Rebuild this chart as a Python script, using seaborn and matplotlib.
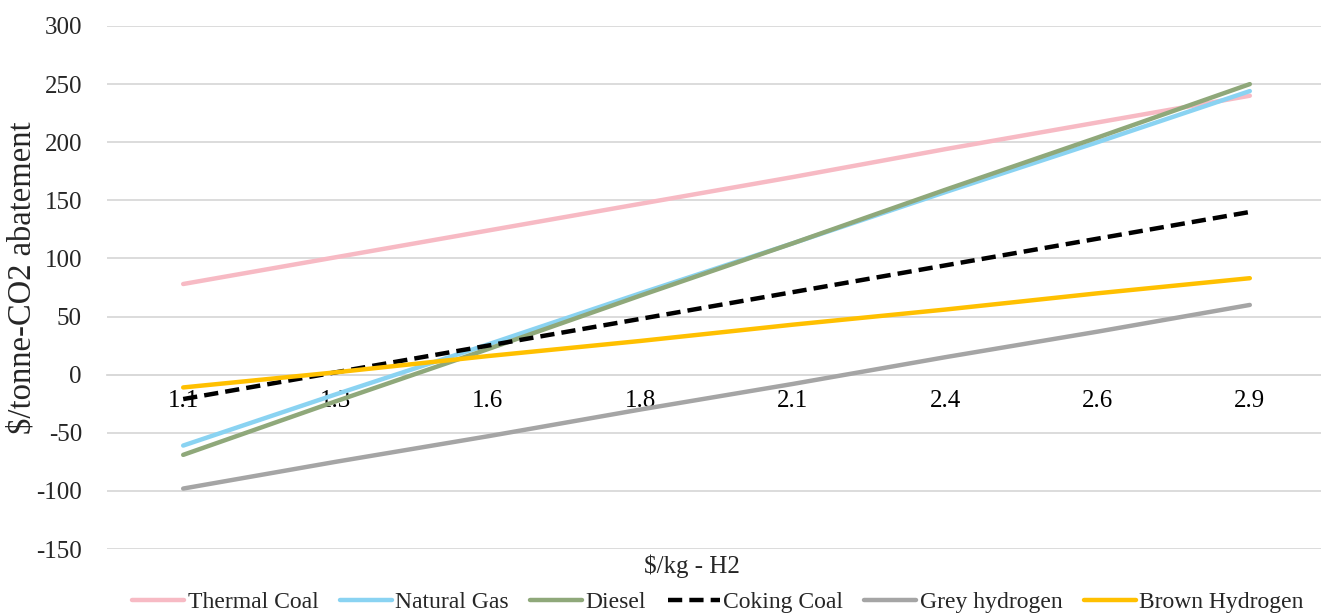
import matplotlib
matplotlib.use("Agg")
import matplotlib.pyplot as plt
import seaborn as sns
import pandas as pd

categories = ["1.1", "1.3", "1.6", "1.8", "2.1", "2.4", "2.6", "2.9"]
thermal_coal = [78, 101, 124, 147, 170, 194, 217, 240]
natural_gas = [-61, -17, 26, 70, 113, 157, 200, 244]
diesel = [-69, -23, 22, 68, 113, 159, 204, 250]
coking_coal = [-21, 2, 25, 48, 71, 94, 117, 140]
grey_hydrogen = [-98, -75, -53, -30, -8, 15, 37, 60]
brown_hydrogen = [-11, 2, 16, 29, 43, 56, 70, 83]

series_names = ["Thermal Coal", "Natural Gas", "Diesel", "Coking Coal",
                "Grey hydrogen", "Brown Hydrogen"]
series_values = [thermal_coal, natural_gas, diesel, coking_coal,
                 grey_hydrogen, brown_hydrogen]
colors = ["#F7BAC4", "#8AD3F2", "#8FA87A", "#000000", "#A5A5A5", "#FFC000"]

rows = []
for name, vals in zip(series_names, series_values):
    for i, (c, v) in enumerate(zip(categories, vals)):
        rows.append({"pos": i, "cat": c, "value": v, "series": name})
df = pd.DataFrame(rows)

sns.set_theme(style="white")
plt.rcParams["font.family"] = ["Liberation Serif", "DejaVu Serif"]
FS = 18

fig = plt.figure(figsize=(13.21, 6.14), dpi=100)
ax = fig.add_axes([107 / 1321, 1 - 549 / 614, 1219 / 1321, 523 / 614])

palette = dict(zip(series_names, colors))
dashes = {n: "" for n in series_names}
dashes["Coking Coal"] = (3.2, 1.6)
sns.lineplot(data=df, x="pos", y="value", hue="series", style="series",
             palette=palette, dashes=dashes, hue_order=series_names,
             style_order=series_names, linewidth=3.2, ax=ax, legend=False)

for s in ["top", "right", "left"]:
    ax.spines[s].set_visible(False)
ax.spines["bottom"].set_position(("data", 0))
ax.spines["bottom"].set_color("#D9D9D9")
ax.spines["bottom"].set_linewidth(1.3)
ax.spines["bottom"].set_zorder(0)

ax.set_xlim(-0.5, len(categories) - 0.5)
ax.set_ylim(-150, 300)
ax.set_yticks(range(-150, 301, 50))
ax.set_yticklabels([str(v) for v in range(-150, 301, 50)])
ax.set_xticks(range(len(categories)))
ax.set_xticklabels(categories)
ax.yaxis.grid(True, color="#D9D9D9", linewidth=1.3)
ax.set_axisbelow(True)
ax.tick_params(axis="x", length=0, pad=11, colors="black", labelsize=FS)
ax.tick_params(axis="y", length=0, pad=18, labelsize=FS)
ax.set_xlabel("")
ax.set_ylabel("")

fig.text(22 / 1321, 1 - 278 / 614, "$/tonne-CO2 abatement", fontsize=23.5,
         rotation=90, ha="center", va="center")
fig.text(692 / 1321, 1 - 566 / 614, "$/kg - H2", fontsize=FS, ha="center", va="center")

handles = [plt.Line2D([], [], color=c, lw=3.2,
                      linestyle=(0, (3.2, 1.6)) if n == "Coking Coal" else "-")
           for n, c in zip(series_names, colors)]
fig.legend(handles, series_names, loc="center", ncol=6, frameon=False,
           bbox_to_anchor=(718 / 1321, 1 - 602 / 614), fontsize=17,
           handlelength=2.2, handletextpad=0.15, columnspacing=0.9)

fig.savefig("out.png", dpi=100)
